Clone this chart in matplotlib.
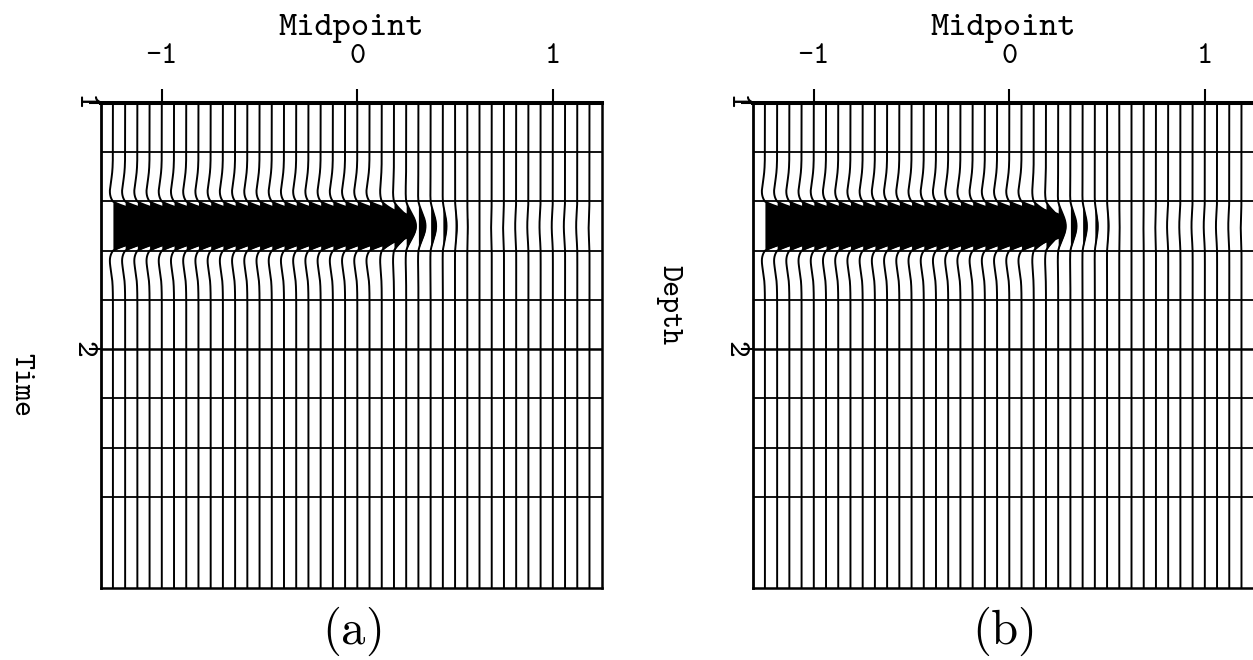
import numpy as np
import matplotlib.pyplot as plt

plt.rcParams['font.family'] = ['cmtt10', 'DejaVu Sans Mono']
plt.rcParams['mathtext.fontset'] = 'cm'

# Trace layout (midpoint of each trace) and time axis
trace_step = 0.0625
midpoints = np.arange(-1.25, 1.19, trace_step)
t = np.linspace(1.0, 2.97, 1200)
event_time = 1.5
pulse_halfwidth = 0.1

# Peak amplitude of each trace, in units of trace spacing
amps_time = [5.0] * 22 + [2.6, 1.5, 0.8, 0.58, 0.45, 0.3, 0.15, 0.04,
                          0.0, -0.05, -0.07, -0.08, -0.09, -0.09, -0.09, -0.1, -0.09, -0.07]
amps_depth = [5.0] * 22 + [2.4, 1.4, 0.62, 0.5, 0.35, 0.24, 0.13, 0.03,
                           0.0, -0.02, -0.05, -0.09, -0.09, -0.09, -0.09, -0.09, -0.08, -0.06]

grid_times = [1.2, 1.4, 1.6, 1.8, 2.0, 2.2, 2.4, 2.6]
x_ticks = [-1, 0, 1]
x_ticklabels = ['-1', '0', '1']
y_ticks = [1, 2]
y_ticklabels = ['1', '2']
clip = 3.0


def pulse(tt):
    a = ((tt - event_time) / pulse_halfwidth) ** 2
    r = (1 - a) * np.exp(-a)
    # weak side lobes
    return np.where(r > 0, r, 0.37 * r)


def wiggle_panel(ax, amps, ylabel, ylabel_pos, tag):
    w = pulse(t)
    for y in grid_times:
        ax.axhline(y, color='k', lw=1.8 if y == 2.0 else 1.3, zorder=1)
    for x0, a in zip(midpoints, amps):
        dx = np.clip(a * w, -clip, clip) * trace_step
        xs = x0 + dx
        ax.fill_betweenx(t, x0, xs, where=dx > 0.002, interpolate=True,
                         color='k', linewidth=0, zorder=2)
        ax.plot(xs, t, color='k', lw=1.4, zorder=3)

    ax.set_xlim(midpoints[0] - trace_step, midpoints[-1] + trace_step)
    ax.set_ylim(t[-1], t[0])

    ax.xaxis.tick_top()
    ax.xaxis.set_label_position('top')
    ax.set_xticks(x_ticks)
    ax.set_xticklabels(x_ticklabels)
    ax.set_yticks(y_ticks)
    ax.set_yticklabels(y_ticklabels, rotation=-90, va='center')
    ax.tick_params(axis='x', direction='out', length=10, width=1.5, pad=14, labelsize=22)
    ax.tick_params(axis='y', direction='out', length=8.5, width=1.5, pad=-5, labelsize=23)
    ax.set_xlabel('Midpoint', fontsize=25, labelpad=6)
    ax.set_ylabel(ylabel, fontsize=22, rotation=-90, ha='center', va='center')
    ax.yaxis.set_label_coords(*ylabel_pos)

    ax.spines['top'].set_linewidth(2.9)
    ax.spines['left'].set_linewidth(2.0)
    ax.spines['bottom'].set_linewidth(1.8)
    ax.spines['right'].set_linewidth(1.8)

    ax.text(0.5, -0.09, tag, transform=ax.transAxes, ha='center', va='center', fontsize=35)


fig = plt.figure(figsize=(12.53, 6.60), dpi=100)
W, H = 1253.0, 660.0
ax_a = fig.add_axes([100.7 / W, 72 / H, 501 / W, 485 / H])
ax_b = fig.add_axes([752.7 / W, 72 / H, 501 / W, 485 / H])

wiggle_panel(ax_a, amps_time, 'Time', (-0.161, 0.419), r'$(\mathrm{a})$')
wiggle_panel(ax_b, amps_depth, 'Depth', (-0.169, 0.583), r'$(\mathrm{b})$')

fig.savefig('out.png', dpi=100)
